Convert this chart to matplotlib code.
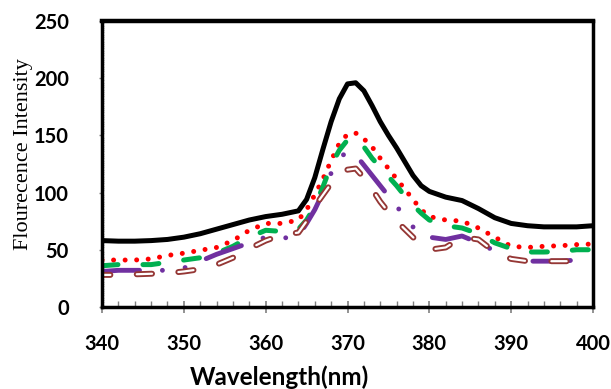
import matplotlib
matplotlib.use("Agg")
import matplotlib.pyplot as plt
from matplotlib.ticker import MultipleLocator

plt.rcParams['lines.scale_dashes'] = False

# wavelength (nm)
wl = [340, 342, 344, 346, 348, 350, 352, 354, 356, 358, 360, 362, 364, 365, 366, 367,
      368, 369, 370, 371, 372, 373, 374, 375, 376, 377, 378, 379, 380, 382, 384, 386,
      388, 390, 392, 394, 396, 398, 400]

s_black = [58, 57.5, 57.5, 58, 59, 61, 64, 68, 72, 76, 79, 81, 84, 94, 113, 138,
           162, 182, 195, 196, 189, 176, 162, 150, 139, 127, 115, 106, 101, 96, 93, 86,
           78, 73, 71, 70, 70, 70, 71]
s_red = [41, 41, 41, 42, 45, 47, 49.5, 52, 58, 67, 73, 73, 76, 85, 98, 112,
         128, 143, 151, 152, 147, 140, 130, 121, 112, 103, 94, 85, 79, 76, 75, 69,
         61, 53, 52, 53, 53.5, 54.5, 55]
s_green = [36, 37, 37, 37, 39, 41, 43, 47, 53, 61, 67, 66, 68, 76, 88, 105,
           124, 137, 146, 148, 140, 130, 122, 114, 106, 97, 89, 82, 76, 71, 69, 64,
           56, 51, 48, 48, 48.5, 50, 50]
s_purple = [31, 32, 32, 32, 32, 34, 40, 46, 51, 56, 61, 60, 62, 73, 85, 100,
            117, 130, 136, 133, 124, 115, 106, 97, 88, 79, 70, 63, 61, 59, 62, 56,
            49, 42, 40, 40, 40, 41, 41]
s_brown = [28, 28, 28.5, 29, 29.5, 31, 33, 37, 43, 51, 58, 63, 65, 75, 88, 98,
           108, 116, 120, 121, 113, 103, 92, 83, 75, 68, 61, 54, 50, 52, 61, 59,
           48, 42, 40, 40, 40, 40, 40]

fig = plt.figure(figsize=(6.11, 3.89), dpi=100)
ax = fig.add_axes([0.167, 0.211, 0.8035, 0.735])

ax.plot(wl, s_black, color='black', lw=3.6, solid_capstyle='round', solid_joinstyle='round')
ax.plot(wl, s_red, color='#FF0000', lw=3.6, linestyle=(0, (0.01, 8.3)),
        dash_capstyle='round')
ax.plot(wl, s_green, color='#00B050', lw=3.6, linestyle=(0, (11.5, 18)),
        dash_capstyle='round')
ax.plot(wl, s_purple, color='#7030A0', lw=3.5,
        linestyle=(0, (27, 16.5, 0.01, 16.5, 0.01, 16.5)), dash_capstyle='round')
# brown compound line: outer brown, inner white
ax.plot(wl, s_brown, color='#953735', lw=4.3, linestyle=(5, (11, 19)),
        dash_capstyle='round')
ax.plot(wl, s_brown, color='white', lw=1.6, linestyle=(5, (11, 19)),
        dash_capstyle='round')

ax.set_xlim(340, 400)
ax.set_ylim(0, 250)
ax.xaxis.set_major_locator(MultipleLocator(10))
ax.xaxis.set_minor_locator(MultipleLocator(2))
ax.yaxis.set_major_locator(MultipleLocator(50))
ax.yaxis.set_minor_locator(MultipleLocator(2))

for sp in ax.spines.values():
    sp.set_linewidth(2.5)
    sp.set_color('black')
ax.spines['top'].set_linewidth(3.2)

ax.tick_params(axis='x', which='major', direction='inout', length=9, width=1.2,
               color='#808080', pad=15)
ax.tick_params(axis='x', which='minor', direction='in', length=4, width=1,
               color='#808080')
ax.tick_params(axis='y', which='major', direction='out', length=2, width=1,
               color='#808080', pad=22)
ax.tick_params(axis='y', which='minor', direction='in', length=1.2, width=0.8,
               color='#c0c0c0')

for lab in ax.get_xticklabels() + ax.get_yticklabels():
    lab.set_fontfamily('Lato')
    lab.set_fontweight('bold')
    lab.set_fontsize(14.5)

fig.text(0.458, 0.010, 'Wavelength(nm)', fontfamily='Lato', fontweight='bold',
         fontsize=17.5, ha='center', va='baseline')
fig.text(0.039, 0.604, 'Flourecence Intensity', fontfamily='Liberation Serif',
         fontsize=16, rotation=90, ha='center', va='center')

fig.savefig('out.png', dpi=100)
